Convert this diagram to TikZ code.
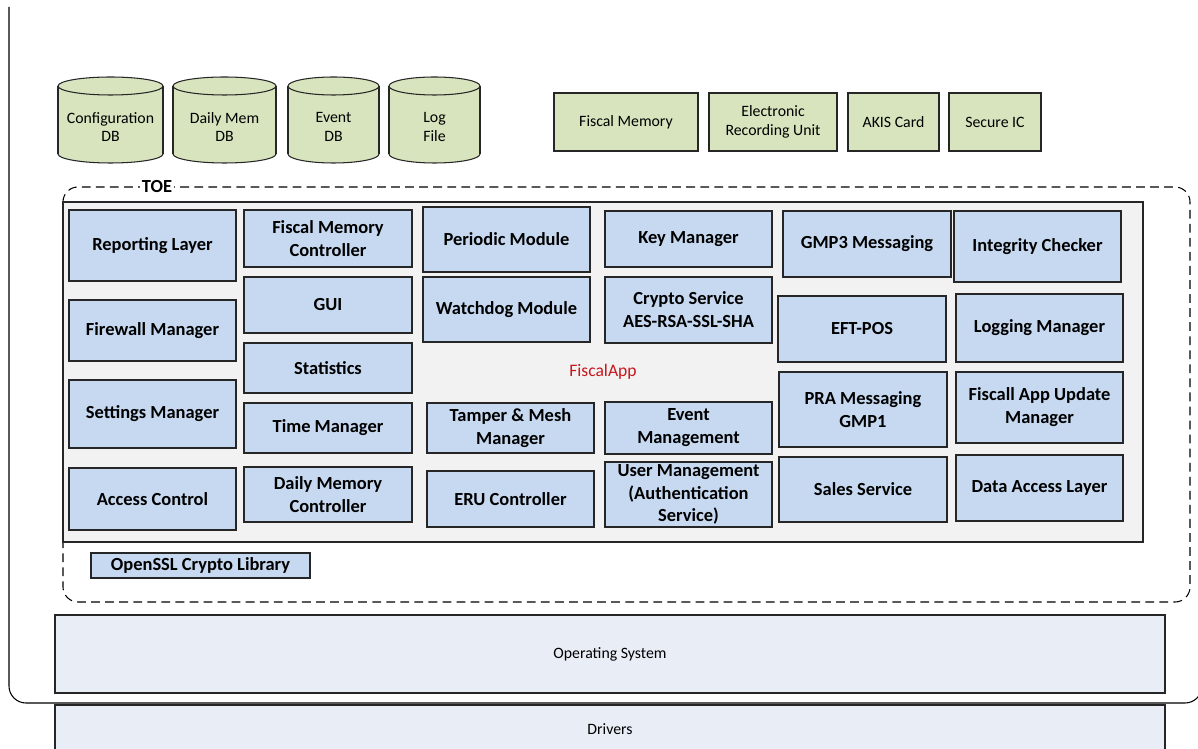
\documentclass[tikz,border=0pt]{standalone}
\usepackage{fontspec}
\setmainfont{Carlito}
\definecolor{blkblue}{HTML}{C6D9F1}
\definecolor{hwgreen}{HTML}{D7E4BD}
\definecolor{appgrey}{HTML}{F2F2F2}
\definecolor{osgrey}{HTML}{E9EDF5}
\definecolor{appred}{HTML}{C8161D}
\begin{document}
\begin{tikzpicture}[x=0.02cm, y=-0.02cm,
    sz/.style 2 args={minimum width=#1*0.02cm, minimum height=#2*0.02cm},
    blk/.style={draw=black!85, line width=0.6pt, fill=blkblue, inner sep=0pt, align=center,
      font=\fontsize{10.5}{13}\selectfont\bfseries},
    hw/.style={draw=black!85, line width=0.6pt, fill=hwgreen, inner sep=0pt, align=center,
      font=\fontsize{9}{11}\selectfont},
    layer/.style={draw=black!85, line width=0.6pt, fill=osgrey, inner sep=0pt,
      font=\fontsize{9}{11}\selectfont},
    db/.style={draw=black!85, line width=0.6pt, fill=hwgreen}]
  \useasboundingbox (0,0) rectangle (1198,749);

  % platform frame
  \draw [line width=0.6pt, rounded corners=0.34cm] (9,7) -- (9,703) -- (1202,703) -- (1202,660);
  \node [layer, sz={1110}{78}] (os) at (610,654) {Operating System};
  \node [layer, sz={1110}{49}] (drv) at (610,729.5) {Drivers};

  % storage
  \foreach \xa/\xb/\nm/\txt in {58/163/cfgdb/{Configuration\\DB}, 173/276/memdb/{Daily Mem\\DB},
      288/379/evtdb/{Event\\DB}, 389/480/logf/{Log\\File}} {
    \filldraw [db] ({(\xa+\xb)/2},154) ellipse [x radius={(\xb-\xa)/2}, y radius=9];
    \fill [hwgreen] (\xa,86) rectangle (\xb,154);
    \draw [line width=0.6pt, black!85] (\xa,86) -- (\xa,154) (\xb,86) -- (\xb,154);
    \filldraw [db] ({(\xa+\xb)/2},86) ellipse [x radius={(\xb-\xa)/2}, y radius=9];
    \node [align=center, font=\fontsize{9}{10.5}\selectfont] (\nm) at ({(\xa+\xb)/2},127) {\txt};
  }

  % hardware
  \node [hw, sz={144}{58}] (fmem) at (626,122) {Fiscal Memory};
  \node [hw, sz={128}{58}] (erunit) at (773,122) {Electronic\\Recording Unit};
  \node [hw, sz={91}{58}] (akis) at (893.5,122) {AKIS Card};
  \node [hw, sz={92}{58}] (secic) at (995,122) {Secure IC};

  % TOE
  \draw [line width=0.6pt, dash pattern=on 5pt off 3pt, rounded corners=0.3cm] (63,187) rectangle (1190,602);
  \node [fill=white, inner sep=1pt, font=\fontsize{10.5}{13}\selectfont\bfseries] (toe) at (157,187) {TOE};
  \node [draw=black!85, line width=0.6pt, fill=appgrey, inner sep=0pt, sz={1080}{340}] (app) at (603,372) {};
  \node [text=appred, font=\fontsize{10}{12}\selectfont] (appname) at (603,372) {FiscalApp};

  \node [blk, sz={167}{71}] (rep) at (152.5,245.5) {Reporting Layer};
  \node [blk, sz={167}{61}] (fwall) at (152.5,330.5) {Firewall Manager};
  \node [blk, sz={167}{68}] (sett) at (152.5,414) {Settings Manager};
  \node [blk, sz={167}{62}] (acc) at (152.5,499) {Access Control};

  \node [blk, sz={168}{57}] (fmc) at (328,238.5) {Fiscal Memory\\Controller};
  \node [blk, sz={168}{56}] (gui) at (328,305) {GUI};
  \node [blk, sz={168}{50}] (stat) at (328,368) {Statistics};
  \node [blk, sz={168}{50}] (timem) at (328,428) {Time Manager};
  \node [blk, sz={168}{55}] (dmc) at (328,494.5) {Daily Memory\\Controller};

  \node [blk, sz={167}{65}] (per) at (506.5,239.5) {Periodic Module};
  \node [blk, sz={167}{65}] (wdog) at (506.5,309.5) {Watchdog Module};
  \node [blk, sz={167}{50}] (tamp) at (510.5,428) {Tamper \& Mesh\\Manager};
  \node [blk, sz={167}{56}] (eruc) at (510.5,499) {ERU Controller};

  \node [blk, sz={167}{56}] (keym) at (688.5,239) {Key Manager};
  \node [blk, sz={167}{66}] (cryp) at (688.5,310) {Crypto Service\\AES-RSA-SSL-SHA};
  \node [blk, sz={167}{52}] (evtm) at (688.5,428) {Event\\Management};
  \node [blk, sz={167}{65}] (usrm) at (688.5,494.5) {User Management\\(Authentication\\Service)};

  \node [blk, sz={168}{66}] (gmp3) at (867,244) {GMP3 Messaging};
  \node [blk, sz={168}{66}] (eft) at (862,329) {EFT-POS};
  \node [blk, sz={168}{75}] (pra) at (863,409.5) {PRA Messaging\\GMP1};
  \node [blk, sz={168}{65}] (sales) at (863,489.5) {Sales Service};

  \node [blk, sz={167}{71}] (integ) at (1037.5,246.5) {Integrity Checker};
  \node [blk, sz={167}{68}] (logm) at (1039.5,328) {Logging Manager};
  \node [blk, sz={167}{71}] (upd) at (1039.5,407.5) {Fiscall App Update\\Manager};
  \node [blk, sz={167}{66}] (dal) at (1039.5,488) {Data Access Layer};

  \node [blk, sz={219}{25}] (ossl) at (200.5,565.5) {OpenSSL Crypto Library};
\end{tikzpicture}
\end{document}
